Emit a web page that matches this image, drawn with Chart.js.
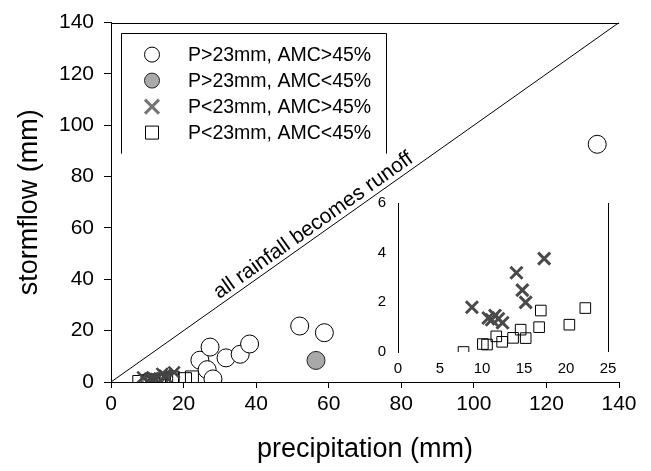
<!DOCTYPE html>
<html>
<head>
<meta charset="utf-8">
<title>Stormflow vs precipitation</title>
<script src="https://cdn.jsdelivr.net/npm/chart.js@4.4.0/dist/chart.umd.min.js"></script>
<style>
  body { margin: 0; background: #fff; }
  #wrap { position: relative; width: 651px; height: 471px; }
  #main-box { position: absolute; left: 0; top: 0; width: 651px; height: 471px; }
  #inset-box { position: absolute; left: 360px; top: 190px; width: 280px; height: 200px; }
</style>
</head>
<body>
<div id="wrap">
  <div id="main-box"><canvas id="main-chart"></canvas></div>
  <div id="inset-box"><canvas id="inset-chart"></canvas></div>
</div>
<script>
// storm events: precipitation P (mm) against stormflow Q (mm)
const seriesNames = ["P>23mm, AMC>45%", "P>23mm, AMC<45%", "P<23mm, AMC>45%", "P<23mm, AMC<45%"];

const wetLargeP = [24.5, 26.5, 27.3, 28.1, 31.7, 35.6, 38.2, 52.0, 58.8, 134.0];
const wetLargeQ = [8.5, 4.8, 13.6, 1.2, 9.4, 10.8, 14.8, 21.8, 19.2, 92.6];

const dryLargeP = [56.5];
const dryLargeQ = [8.4];

const wetSmallP = [8.8, 10.75, 11.15, 11.55, 11.95, 12.45, 14.1, 14.8, 15.2, 17.4];
const wetSmallQ = [1.8, 1.37, 1.3, 1.47, 1.34, 1.18, 3.19, 2.49, 2.0, 3.76];

const drySmallP = [7.8, 10.1, 10.6, 11.7, 12.4, 13.7, 14.6, 15.2, 16.8, 17.0, 20.4, 22.3];
const drySmallQ = [0.0, 0.32, 0.3, 0.63, 0.41, 0.57, 0.9, 0.56, 1.0, 1.67, 1.1, 1.77];

// 1:1 line
const lineP = [0, 140];
const lineQ = [0, 140];

const mainTicks = [0, 20, 40, 60, 80, 100, 120, 140];
const insetXTicks = [0, 5, 10, 15, 20, 25];
const insetYTicks = [0, 2, 4, 6];

const FONT = '"Liberation Sans", Arial, Helvetica, sans-serif';

function toPoints(xs, ys) {
    return xs.map((x, i) => ({ x: x, y: ys[i] }));
}

function fixedTicks(values) {
    return scale => { scale.ticks = values.map(v => ({ value: v })); };
}

// draw extra frame edges (the library only draws the axis borders)
const frameLines = {
    id: "frameLines",
    afterDraw(chart, args, opts) {
        const { ctx, chartArea: a } = chart;
        ctx.save();
        ctx.strokeStyle = "#000";
        ctx.lineWidth = 1;
        ctx.beginPath();
        (opts.sides || []).forEach(side => {
            if (side === "top") {
                ctx.moveTo(a.left, Math.round(a.top) + 0.5);
                ctx.lineTo(a.right, Math.round(a.top) + 0.5);
            } else if (side === "right") {
                ctx.moveTo(Math.round(a.right) + 0.5, a.top);
                ctx.lineTo(Math.round(a.right) + 0.5, a.bottom);
            }
        });
        ctx.stroke();
        ctx.restore();
    }
};

// legend markers
function drawMarker(ctx, kind, x, y) {
    ctx.save();
    ctx.beginPath();
    if (kind === "open") {
        ctx.arc(x, y, 7.5, 0, Math.PI * 2);
        ctx.fillStyle = "#fff";
        ctx.strokeStyle = "#000";
        ctx.lineWidth = 1;
        ctx.fill();
        ctx.stroke();
    } else if (kind === "filled") {
        ctx.arc(x, y, 7.5, 0, Math.PI * 2);
        ctx.fillStyle = "#a9a9a9";
        ctx.strokeStyle = "#222";
        ctx.lineWidth = 1;
        ctx.fill();
        ctx.stroke();
    } else if (kind === "cross") {
        const h = 7;
        ctx.moveTo(x - h, y - h); ctx.lineTo(x + h, y + h);
        ctx.moveTo(x + h, y - h); ctx.lineTo(x - h, y + h);
        ctx.strokeStyle = "#747474";
        ctx.lineWidth = 3;
        ctx.stroke();
    } else {
        ctx.rect(x - 6.5, y - 6.5, 13, 13);
        ctx.strokeStyle = "#000";
        ctx.lineWidth = 1;
        ctx.stroke();
    }
    ctx.restore();
}

const boxLegend = {
    id: "boxLegend",
    afterDraw(chart) {
        const { ctx, chartArea: a } = chart;
        const left = Math.round(a.left + 10) + 0.5;
        const top = Math.round(a.top + 10) + 0.5;
        const right = Math.round(a.left + 275) + 0.5;
        const bottom = a.top + 131;

        // open-bottomed frame
        ctx.save();
        ctx.strokeStyle = "#000";
        ctx.lineWidth = 1;
        ctx.beginPath();
        ctx.moveTo(left, bottom);
        ctx.lineTo(left, top);
        ctx.lineTo(right, top);
        ctx.lineTo(right, bottom);
        ctx.stroke();
        ctx.restore();

        const kinds = ["open", "filled", "cross", "square"];
        ctx.save();
        ctx.font = "19.5px " + FONT;
        ctx.fillStyle = "#000";
        ctx.textBaseline = "middle";
        seriesNames.forEach((name, i) => {
            const rowY = a.top + 32 + i * 26;
            drawMarker(ctx, kinds[i], a.left + 41, rowY);
            ctx.fillText(name, a.left + 77, rowY + 1);
        });
        ctx.restore();
    }
};

// label written along the 1:1 line
const runoffLabel = {
    id: "runoffLabel",
    afterDatasetsDraw(chart) {
        const { ctx } = chart;
        const xs = chart.scales.x, ys = chart.scales.y;
        const x0 = xs.getPixelForValue(lineP[0]), y0 = ys.getPixelForValue(lineQ[0]);
        const x1 = xs.getPixelForValue(lineP[1]), y1 = ys.getPixelForValue(lineQ[1]);
        const angle = Math.atan2(y1 - y0, x1 - x0);
        ctx.save();
        ctx.translate(xs.getPixelForValue(57.5), ys.getPixelForValue(57.5));
        ctx.rotate(angle);
        ctx.font = "21px " + FONT;
        ctx.fillStyle = "#000";
        ctx.textAlign = "center";
        ctx.textBaseline = "alphabetic";
        ctx.fillText("all rainfall becomes runoff", 0, -5);
        ctx.restore();
    }
};

// ------------------------------------------------------------
// MAIN PLOT
// ------------------------------------------------------------
const axisCommon = {
    type: "linear",
    min: 0,
    max: 140,
    afterBuildTicks: fixedTicks(mainTicks),
    grid: { drawOnChartArea: false, drawTicks: true, color: "#000", lineWidth: 1 },
    border: { display: true, color: "#000", width: 1 },
    ticks: { color: "#000", font: { family: FONT, size: 21 } }
};

new Chart(document.getElementById("main-chart"), {
    type: "scatter",
    data: {
        datasets: [
            {
                label: "1:1",
                type: "line",
                data: toPoints(lineP, lineQ),
                borderColor: "#000",
                borderWidth: 1,
                pointRadius: 0,
                fill: false
            },
            {
                label: seriesNames[0],
                data: toPoints(wetLargeP, wetLargeQ),
                pointStyle: "circle",
                pointRadius: 9,
                backgroundColor: "#fff",
                borderColor: "#000",
                borderWidth: 1
            },
            {
                label: seriesNames[1],
                data: toPoints(dryLargeP, dryLargeQ),
                pointStyle: "circle",
                pointRadius: 9,
                backgroundColor: "#a9a9a9",
                borderColor: "#222",
                borderWidth: 1
            },
            {
                label: seriesNames[2],
                data: toPoints(wetSmallP, wetSmallQ),
                pointStyle: "crossRot",
                pointRadius: 8,
                borderColor: "#444",
                borderWidth: 2.5
            },
            {
                label: seriesNames[3],
                data: toPoints(drySmallP, drySmallQ),
                pointStyle: "rect",
                pointRadius: 9.2,
                backgroundColor: "rgba(255,255,255,0)",
                borderColor: "#000",
                borderWidth: 1
            }
        ]
    },
    options: {
        responsive: true,
        maintainAspectRatio: false,
        animation: false,
        layout: { padding: { left: 0, top: 16, right: 32, bottom: 0 } },
        scales: {
            x: Object.assign({}, axisCommon, {
                position: "bottom",
                afterFit: scale => { scale.height = 89; },
                grid: Object.assign({}, axisCommon.grid, { tickLength: 6 }),
                ticks: Object.assign({}, axisCommon.ticks, { padding: 4, maxRotation: 0 }),
                title: {
                    display: true,
                    text: "precipitation (mm)",
                    color: "#000",
                    font: { family: FONT, size: 27, lineHeight: 1 },
                    padding: { top: 0, bottom: 7.5 }
                }
            }),
            y: Object.assign({}, axisCommon, {
                position: "left",
                afterFit: scale => { scale.width = 111; },
                grid: Object.assign({}, axisCommon.grid, { tickLength: 7 }),
                ticks: Object.assign({}, axisCommon.ticks, { padding: 10 }),
                title: {
                    display: true,
                    text: "stormflow (mm)",
                    color: "#000",
                    font: { family: FONT, size: 27, lineHeight: 1 },
                    padding: { top: 16.5, bottom: 0 }
                }
            })
        },
        plugins: {
            legend: { display: false },
            tooltip: { enabled: false },
            frameLines: { sides: ["top"] }
        }
    },
    plugins: [frameLines, boxLegend, runoffLabel]
});

// ------------------------------------------------------------
// INSET: small events
// ------------------------------------------------------------
new Chart(document.getElementById("inset-chart"), {
    type: "scatter",
    data: {
        datasets: [
            {
                label: seriesNames[2],
                data: toPoints(wetSmallP, wetSmallQ),
                pointStyle: "crossRot",
                pointRadius: 8.5,
                borderColor: "#4a4a4a",
                borderWidth: 3,
                clip: 0
            },
            {
                label: seriesNames[3],
                data: toPoints(drySmallP, drySmallQ),
                pointStyle: "rect",
                pointRadius: 7.5,
                backgroundColor: "rgba(255,255,255,0)",
                borderColor: "#000",
                borderWidth: 1,
                clip: 0
            }
        ]
    },
    options: {
        responsive: true,
        maintainAspectRatio: false,
        animation: false,
        layout: { padding: { left: 0, top: 11, right: 32, bottom: 0 } },
        scales: {
            x: {
                type: "linear",
                min: 0,
                max: 25,
                afterBuildTicks: fixedTicks(insetXTicks),
                afterFit: scale => { scale.height = 38; },
                grid: { display: false },
                border: { display: false },
                ticks: { color: "#000", padding: 0, maxRotation: 0, font: { family: FONT, size: 15 } }
            },
            y: {
                type: "linear",
                min: 0,
                max: 6,
                afterBuildTicks: fixedTicks(insetYTicks),
                afterFit: scale => { scale.width = 38; },
                grid: { display: false },
                border: { display: true, color: "#000", width: 1 },
                ticks: { color: "#000", padding: 4, font: { family: FONT, size: 15 } }
            }
        },
        plugins: {
            legend: { display: false },
            tooltip: { enabled: false },
            frameLines: { sides: ["right"] }
        }
    },
    plugins: [frameLines]
});
</script>
</body>
</html>
